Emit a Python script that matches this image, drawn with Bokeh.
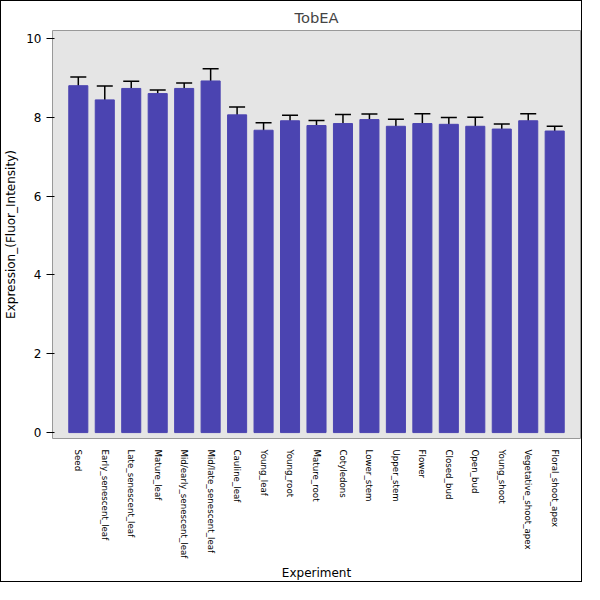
from bokeh.plotting import figure
from bokeh.models import ColumnDataSource, Whisker, TeeHead
from bokeh.embed import file_html
from bokeh.resources import INLINE

experiments = ["Seed","Early_senescent_leaf","Late_senescent_leaf","Mature_leaf","Mid/early_senescent_leaf",
               "Mid/late_senescent_leaf","Cauline_leaf","Young_leaf","Young_root","Mature_root","Cotyledons",
               "Lower_stem","Upper_stem","Flower","Closed_bud","Open_bud","Young_shoot","Vegetative_shoot_apex",
               "Floral_shoot_apex"]
values = [8.8,8.44,8.73,8.6,8.73,8.92,8.06,7.67,7.91,7.79,7.84,7.94,7.77,7.84,7.82,7.77,7.7,7.91,7.65]
errors = [0.22,0.35,0.18,0.09,0.14,0.31,0.2,0.19,0.14,0.13,0.23,0.14,0.18,0.25,0.17,0.23,0.13,0.18,0.12]

src = ColumnDataSource(dict(x=experiments, y=values,
                            lo=[v-e for v, e in zip(values, errors)],
                            hi=[v+e for v, e in zip(values, errors)]))

F = "DejaVu Sans"
p = figure(x_range=experiments, y_range=(-0.15, 10.2), width=582, height=582,
           title="TobEA", output_backend="svg", toolbar_location=None,
           x_axis_label="Experiment", y_axis_label="Expression_(Fluor_Intensity)")
p.styles = {"border": "1px solid black"}
p.vbar(x="x", top="y", width=0.72, source=src, fill_color="#4b44b1", line_color="#4b44b1")
w = Whisker(base="x", lower="lo", upper="hi", source=src, line_color="black", line_width=1.5,
            upper_head=TeeHead(size=16, line_color="black", line_width=1.5),
            lower_head=TeeHead(size=16, line_color="black", line_width=1.5))
p.add_layout(w)
p.background_fill_color = "#e5e5e5"
p.xgrid.visible = False
p.ygrid.visible = False
p.outline_line_color = "#999999"
p.title.align = "center"
p.title.text_font = F
p.title.text_font_style = "normal"
p.title.text_font_size = "11pt"
p.x_range.range_padding = 0.05
p.xaxis.major_label_orientation = -1.5708
for ax in (p.xaxis, p.yaxis):
    ax.major_label_text_font = F
    ax.axis_label_text_font = F
    ax.major_label_text_color = "black"
    ax.axis_label_text_color = "black"
    ax.axis_label_text_font_style = "normal"
    ax.axis_label_text_font_size = "9pt"
    ax.axis_line_color = None
p.xaxis.major_label_text_font_size = "6.5pt"
p.yaxis.major_label_text_font_size = "9pt"
p.yaxis.ticker = [0, 2, 4, 6, 8, 10]
p.yaxis.minor_tick_line_color = None
p.xaxis.major_tick_line_color = None
p.min_border_right = 3
p.min_border_left = 10
open("out.html", "w").write(file_html(p, INLINE))
